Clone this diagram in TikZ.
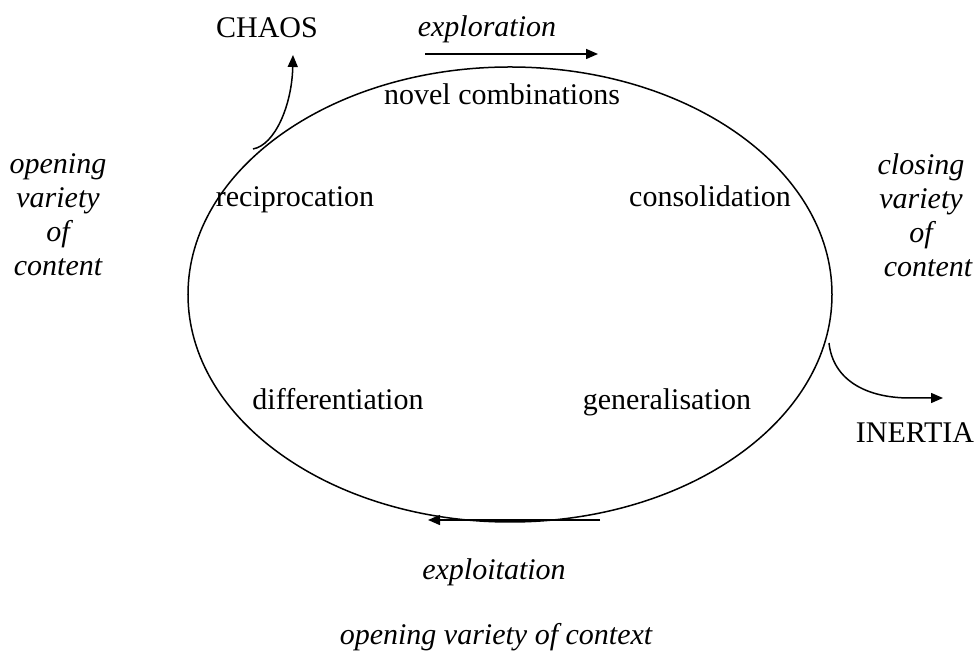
\documentclass[tikz,border=0pt]{standalone}
\usepackage{fontspec}
\setmainfont{Liberation Serif}
\usetikzlibrary{arrows.meta,shapes.geometric}

\begin{document}
\begin{tikzpicture}[x=0.4pt,y=-0.4pt,
	font=\fontsize{12}{13.6}\selectfont,
	line width=0.6pt,
	phase/.style={inner sep=0pt, anchor=base},
	label/.style={inner sep=0pt, anchor=base, font=\fontsize{12}{13.6}\selectfont\itshape},
	side/.style={inner sep=0pt, align=center, font=\fontsize{12}{13.6}\selectfont\itshape},
	flow/.style={-{Triangle[length=4.8pt,width=4pt]}}]
	%%%%% START %%%%%
	
	\useasboundingbox (0,0) rectangle (975,651);
	
	\node[draw, ellipse, inner sep=0pt, outer sep=0pt, minimum width=257.6pt, minimum height=182pt] (cycle) at (510,294.5) {};
	
	\node[phase] (novel) at (502,105) {novel combinations};
	\node[phase] (recip) at (295,207) {reciprocation};
	\node[phase] (consol) at (710,207) {consolidation};
	\node[phase] (diff) at (338,410) {differentiation};
	\node[phase] (gen) at (667,410) {generalisation};
	
	\node[phase] (chaos) at (267,38) {CHAOS};
	\node[phase] (inertia) at (915,443) {INERTIA};
	
	\node[label] (explor) at (487,37) {exploration};
	\node[label] (exploit) at (494,580) {exploitation};
	\node[label] (context) at (496,645) {opening variety of context};
	\node[side] (opencont) at (58,215) {opening\\variety\\of\\content};
	\node[side] (closecont) at (921,215) {closing\\variety\\of\\\hspace*{5.6pt}content};
	
	\coordinate (explorA) at (425,54);
	\coordinate (explorB) at (598,54);
	\coordinate (exploitA) at (600,520);
	\coordinate (exploitB) at (428,520);
	\coordinate (chaosfoot) at (253,149);
	\coordinate (chaostip) at (293,55);
	\coordinate (inertiafoot) at (829,343);
	\coordinate (inertiatip) at (943,398);
	
	\draw[flow] (explorA) -- (explorB);
	\draw[flow] (exploitA) -- (exploitB);
	\draw[flow] (chaosfoot) .. controls (275,145) and (292,105) .. (chaostip);
	\draw[flow] (inertiafoot) .. controls (833,380) and (866,398) .. (910,398) -- (inertiatip);
	
	%%%%% END %%%%%
\end{tikzpicture}
\end{document}
